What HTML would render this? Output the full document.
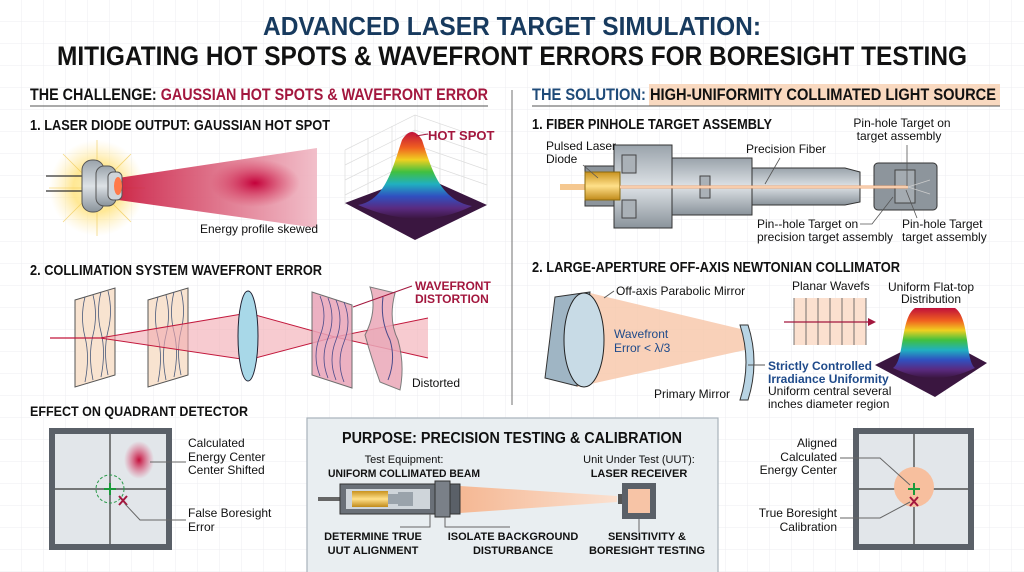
<!DOCTYPE html>
<html><head><meta charset="utf-8"><style>
html,body{margin:0;padding:0;background:#fff}
svg{display:block}
text{font-family:"Liberation Sans Narrow","Liberation Sans",sans-serif}
.h{font-weight:bold}
</style></head><body>
<svg width="1024" height="572" viewBox="0 0 1024 572" xmlns="http://www.w3.org/2000/svg">
<defs>
<pattern id="grid" width="22" height="22" patternUnits="userSpaceOnUse"><path d="M22 0V22H0" fill="none" stroke="#eceef1" stroke-width="1"/></pattern>
<radialGradient id="glow"><stop offset="0" stop-color="#fff7c0"/><stop offset="0.5" stop-color="#ffe27a" stop-opacity="0.8"/><stop offset="1" stop-color="#ffe9a8" stop-opacity="0"/></radialGradient>
<linearGradient id="beam" x1="0" x2="1"><stop offset="0" stop-color="#c8153c"/><stop offset="1" stop-color="#f0b8c4"/></linearGradient>
<radialGradient id="hot"><stop offset="0" stop-color="#c4003a"/><stop offset="1" stop-color="#d63a5c" stop-opacity="0"/></radialGradient>
<linearGradient id="rb" x1="0" y1="0" x2="0" y2="1"><stop offset="0" stop-color="#c0103a"/><stop offset="0.18" stop-color="#f06020"/><stop offset="0.32" stop-color="#f0d020"/><stop offset="0.46" stop-color="#40c040"/><stop offset="0.6" stop-color="#20b0c0"/><stop offset="0.74" stop-color="#3050c0"/><stop offset="0.88" stop-color="#5a2a80"/><stop offset="1" stop-color="#3a1640"/></linearGradient>
<linearGradient id="metal" x1="0" y1="0" x2="0" y2="1"><stop offset="0" stop-color="#9aa3ab"/><stop offset="0.5" stop-color="#dde2e6"/><stop offset="1" stop-color="#8a939b"/></linearGradient>
<linearGradient id="gold" x1="0" y1="0" x2="0" y2="1"><stop offset="0" stop-color="#c9921e"/><stop offset="0.5" stop-color="#ffe08a"/><stop offset="1" stop-color="#c08a1a"/></linearGradient>
<radialGradient id="redspot"><stop offset="0" stop-color="#c4103c"/><stop offset="1" stop-color="#e0406a" stop-opacity="0"/></radialGradient>
<linearGradient id="peachb" x1="0" x2="1"><stop offset="0" stop-color="#f5b894"/><stop offset="1" stop-color="#fbe0cf"/></linearGradient>
</defs>
<rect width="1024" height="572" fill="#fff"/>
<rect width="1024" height="572" fill="url(#grid)"/>

<!-- Titles -->
<text x="512" y="35" text-anchor="middle" class="h" font-size="26" fill="#173a5e" textLength="498" lengthAdjust="spacingAndGlyphs">ADVANCED LASER TARGET SIMULATION:</text>
<text x="512" y="65" text-anchor="middle" class="h" font-size="27" fill="#111" textLength="910" lengthAdjust="spacingAndGlyphs">MITIGATING HOT SPOTS &amp; WAVEFRONT ERRORS FOR BORESIGHT TESTING</text>

<!-- Left header -->
<text x="30" y="100" class="h" font-size="17" textLength="458" lengthAdjust="spacingAndGlyphs"><tspan fill="#111">THE CHALLENGE: </tspan><tspan fill="#a3173e">GAUSSIAN HOT SPOTS &amp; WAVEFRONT ERROR</tspan></text>
<line x1="30" y1="106" x2="488" y2="106" stroke="#555" stroke-width="1"/>
<line x1="512" y1="90" x2="512" y2="405" stroke="#888" stroke-width="1.2"/>

<!-- Right header -->
<rect x="649" y="84" width="351" height="22" fill="#f9d9c0"/>
<text x="532" y="100" class="h" font-size="17" textLength="464" lengthAdjust="spacingAndGlyphs"><tspan fill="#1e4a78">THE SOLUTION: </tspan><tspan fill="#111">HIGH-UNIFORMITY COLLIMATED LIGHT SOURCE</tspan></text>
<line x1="532" y1="106" x2="1000" y2="106" stroke="#555" stroke-width="1"/>

<!-- 1. Laser diode -->
<text x="30" y="130" class="h" font-size="15" fill="#111" textLength="300" lengthAdjust="spacingAndGlyphs">1. LASER DIODE OUTPUT: GAUSSIAN HOT SPOT</text>
<circle cx="97" cy="188" r="48" fill="url(#glow)"/>
<g stroke="#f0c850" stroke-width="0.8" opacity="0.7">
<line x1="97" y1="140" x2="97" y2="236"/><line x1="49" y1="188" x2="145" y2="188"/><line x1="63" y1="154" x2="131" y2="222"/><line x1="63" y1="222" x2="131" y2="154"/>
</g>
<line x1="46" y1="176" x2="84" y2="176" stroke="#333" stroke-width="1.2"/>
<line x1="46" y1="191" x2="84" y2="191" stroke="#333" stroke-width="1.2"/>
<polygon points="118,178 317,148 317,228 118,200" fill="url(#beam)" opacity="0.9"/>
<ellipse cx="255" cy="183" rx="45" ry="24" fill="url(#hot)"/>
<rect x="82" y="160" width="22" height="52" rx="10" fill="url(#metal)" stroke="#555"/>
<rect x="96" y="166" width="20" height="40" rx="8" fill="url(#metal)" stroke="#555"/>
<rect x="108" y="172" width="14" height="28" rx="5" fill="#cfd5da" stroke="#555"/>
<ellipse cx="118" cy="186" rx="4" ry="9" fill="#ff7a4a"/>
<text x="200" y="233" font-size="12" fill="#111">Energy profile skewed</text>

<!-- Gaussian 3D -->
<g stroke="#ddd" stroke-width="0.7" fill="none">
<path d="M345 150 L415 115 L487 140 M345 150 V205 M415 115 V175 M487 140 V205"/>
<path d="M345 165 L415 130 L487 155 M345 180 L415 145 L487 170 M345 195 L415 160 L487 185"/>
<path d="M368 138 V193 M392 126 V181 M440 124 V184 M464 132 V192"/>
</g>
<polygon points="345,203 420,175 487,205 415,240" fill="#3a1640"/>
<path d="M358 205 C385 200 392 170 402 140 Q412 124 422 140 C432 170 440 200 472 206 Q420 232 358 205 Z" fill="url(#rb)"/>
<line x1="416" y1="136" x2="428" y2="134" stroke="#a3173e"/>
<text x="428" y="140" class="h" font-size="13" fill="#a3173e">HOT SPOT</text>

<!-- 2. Collimation -->
<text x="30" y="275" class="h" font-size="15" fill="#111" textLength="292" lengthAdjust="spacingAndGlyphs">2. COLLIMATION SYSTEM WAVEFRONT ERROR</text>
<polygon points="75,300 115,288 115,375 75,387" fill="#f8e3d0" stroke="#555"/>
<polygon points="148,300 188,288 188,375 148,387" fill="#f8e3d0" stroke="#555"/>
<g stroke="#4a5a7a" stroke-width="0.8" fill="none">
<path d="M85 297 q-5 20 0 40 q5 20 0 45"/><path d="M93 295 q5 20 0 40 q-5 20 0 45"/><path d="M101 292 q-5 20 0 40 q5 20 0 45"/><path d="M108 291 q5 20 0 40 q-5 20 0 44"/>
<path d="M158 297 q-5 20 0 40 q5 20 0 45"/><path d="M166 295 q5 20 0 40 q-5 20 0 45"/><path d="M174 292 q-5 20 0 40 q5 20 0 45"/><path d="M181 291 q5 20 0 40 q-5 20 0 44"/>
</g>
<line x1="50" y1="338" x2="100" y2="338" stroke="#c2183c" stroke-width="1.2"/>
<polygon points="100,338 248,313 248,360" fill="#f2a8b0" opacity="0.6"/>
<polygon points="248,313 248,360 335,337" fill="#f2a8b0" opacity="0.6"/>
<polygon points="335,337 428,318 428,358" fill="#f2a8b0" opacity="0.6"/>
<path d="M100 338 L248 313 L335 337 L428 318 M100 338 L248 360 L335 337 L428 358" fill="none" stroke="#c2183c" stroke-width="1"/>
<ellipse cx="248" cy="336" rx="10" ry="45" fill="#a8d8e8" stroke="#223" stroke-width="1"/>
<polygon points="312,292 352,305 352,388 312,375" fill="#e9a4b8" opacity="0.85" stroke="#555"/>
<g stroke="#4a4a8a" stroke-width="0.8" fill="none">
<path d="M320 296 q8 20 0 40 q-8 20 0 40"/><path d="M328 298 q8 20 0 40 q-8 20 0 40"/><path d="M336 300 q8 20 0 40 q-8 20 0 40"/><path d="M344 302 q8 20 0 40 q-8 20 0 40"/>
</g>
<path d="M370 287 L395 293 Q388 320 398 340 Q405 365 400 390 L380 382 Q372 360 365 335 Q378 310 370 287 Z" fill="#eaa8b8" opacity="0.85" stroke="#666"/>
<path d="M383 297 Q380 320 390 340 Q396 360 388 380" fill="none" stroke="#4a4a8a"/>
<line x1="353" y1="307" x2="412" y2="286" stroke="#a3173e"/>
<text x="415" y="290" class="h" font-size="12" fill="#a3173e">WAVEFRONT</text>
<text x="415" y="303" class="h" font-size="12" fill="#a3173e">DISTORTION</text>
<text x="412" y="387" font-size="12" fill="#111">Distorted</text>

<!-- Quadrant detector left -->
<text x="30" y="416" class="h" font-size="14" fill="#111" textLength="218" lengthAdjust="spacingAndGlyphs">EFFECT ON QUADRANT DETECTOR</text>
<rect x="49" y="428" width="123" height="122" fill="#5a6068"/>
<rect x="55" y="434" width="111" height="110" fill="#e2e6ea"/>
<line x1="55" y1="489" x2="166" y2="489" stroke="#333" stroke-width="1.2"/>
<line x1="110" y1="434" x2="110" y2="544" stroke="#333" stroke-width="1.2"/>
<ellipse cx="139" cy="460" rx="15" ry="19" fill="url(#redspot)"/>
<circle cx="110" cy="489" r="14" fill="none" stroke="#2a9a4a" stroke-dasharray="3,2"/>
<path d="M104 489 h12 M110 483 v12" stroke="#1a9a3a" stroke-width="2"/>
<path d="M119 496 l8 9 M127 496 l-8 9" stroke="#a3173e" stroke-width="2"/>
<line x1="150" y1="462" x2="186" y2="462" stroke="#666"/>
<path d="M125 504 L140 520 L186 520" fill="none" stroke="#666"/>
<g font-size="12" fill="#111">
<text x="188" y="447">Calculated</text><text x="188" y="461">Energy Center</text><text x="188" y="474">Center Shifted</text>
<text x="188" y="517">False Boresight</text><text x="188" y="531">Error</text>
</g>

<!-- Purpose box -->
<rect x="307" y="418" width="411" height="160" fill="#e9eef1" stroke="#a8b2ba" stroke-width="1.2"/>
<text x="512" y="443" text-anchor="middle" class="h" font-size="16" fill="#111" textLength="340" lengthAdjust="spacingAndGlyphs">PURPOSE: PRECISION TESTING &amp; CALIBRATION</text>
<g font-size="11" fill="#111" text-anchor="middle">
<text x="404" y="463">Test Equipment:</text><text x="404" y="477" class="h" textLength="152" lengthAdjust="spacingAndGlyphs">UNIFORM COLLIMATED BEAM</text>
<text x="639" y="463">Unit Under Test (UUT):</text><text x="639" y="477" class="h">LASER RECEIVER</text>
</g>
<polygon points="460,486 617,496 617,502 460,513" fill="url(#peachb)"/>
<rect x="318" y="497" width="22" height="4" fill="#666"/>
<rect x="340" y="484" width="95" height="30" fill="#6a7078" stroke="#333"/>
<rect x="346" y="489" width="84" height="20" fill="#cfd5da"/>
<rect x="352" y="491" width="36" height="16" fill="url(#gold)"/>
<path d="M388 494 h10 v-2 h15 v14 h-15 v-2 h-10 z" fill="#9aa3ab"/>
<rect x="435" y="481" width="15" height="36" fill="#7a8088" stroke="#333"/>
<rect x="450" y="484" width="10" height="30" fill="#5a6068" stroke="#333"/>
<rect x="618" y="494" width="4" height="10" fill="#555"/>
<rect x="622" y="483" width="34" height="36" fill="#5a6068"/>
<rect x="628" y="489" width="22" height="24" fill="#f7c4a6"/>
<path d="M430 514 V527 H400 M445 517 V527 H510 M639 519 V532" fill="none" stroke="#666"/>
<g font-size="11" fill="#111" text-anchor="middle" class="h">
<text x="373" y="540">DETERMINE TRUE</text><text x="373" y="554">UUT ALIGNMENT</text>
<text x="513" y="540">ISOLATE BACKGROUND</text><text x="513" y="554">DISTURBANCE</text>
<text x="647" y="540">SENSITIVITY &amp;</text><text x="647" y="554">BORESIGHT TESTING</text>
</g>

<!-- Right detector -->
<rect x="853" y="428" width="121" height="122" fill="#5a6068"/>
<rect x="859" y="434" width="109" height="110" fill="#e2e6ea"/>
<line x1="859" y1="489" x2="968" y2="489" stroke="#333" stroke-width="1.2"/>
<line x1="914" y1="434" x2="914" y2="544" stroke="#333" stroke-width="1.2"/>
<circle cx="914" cy="487" r="20" fill="#f7bf9e"/>
<path d="M908 489 h12 M914 483 v12" stroke="#1a9a3a" stroke-width="2"/>
<path d="M910 497 l8 9 M918 497 l-8 9" stroke="#a3173e" stroke-width="2"/>
<path d="M840 458 L880 458 L910 485" fill="none" stroke="#666"/>
<path d="M840 518 L880 518 L910 502" fill="none" stroke="#666"/>
<g font-size="12" fill="#111" text-anchor="end">
<text x="837" y="447">Aligned</text><text x="837" y="461">Calculated</text><text x="837" y="474">Energy Center</text>
<text x="837" y="517">True Boresight</text><text x="837" y="531">Calibration</text>
</g>

<!-- 1. Fiber pinhole assembly -->
<text x="532" y="129" class="h" font-size="15" fill="#111" textLength="240" lengthAdjust="spacingAndGlyphs">1. FIBER PINHOLE TARGET ASSEMBLY</text>
<line x1="560" y1="187" x2="585" y2="187" stroke="#f5c890" stroke-width="6"/>
<rect x="585" y="166" width="45" height="40" fill="#8d959c" stroke="#333"/>
<rect x="614" y="145" width="58" height="83" fill="url(#metal)" stroke="#333"/>
<rect x="622" y="155" width="14" height="18" fill="#aab1b7" stroke="#444"/>
<rect x="622" y="200" width="14" height="18" fill="#aab1b7" stroke="#444"/>
<rect x="672" y="158" width="80" height="57" fill="url(#metal)" stroke="#333"/>
<path d="M752 168 H845 L860 172 V202 L845 205 H752 Z" fill="url(#metal)" stroke="#333"/>
<rect x="700" y="176" width="10" height="22" fill="#aab1b7" stroke="#444"/>
<rect x="874" y="163" width="63" height="47" rx="4" fill="#8d959c" stroke="#333"/>
<rect x="895" y="170" width="20" height="33" fill="#a4abb1" stroke="#444"/>
<rect x="585" y="172" width="35" height="28" fill="url(#gold)" stroke="#8a6a10"/>
<line x1="620" y1="187" x2="908" y2="187" stroke="#f0a878" stroke-width="3"/>
<line x1="620" y1="187" x2="908" y2="187" stroke="#fff2e0" stroke-width="1"/>
<path d="M908 187 L930 180 M908 187 L930 194" stroke="#ccc" stroke-width="0.8"/>
<g stroke="#555" stroke-width="0.8" fill="none">
<line x1="583" y1="165" x2="598" y2="178"/>
<line x1="780" y1="158" x2="765" y2="184"/>
<line x1="907" y1="145" x2="907" y2="186"/>
<path d="M860 224 H872 L893 197"/>
<line x1="906" y1="190" x2="917" y2="218"/>
</g>
<g font-size="12" fill="#111">
<text x="546" y="150">Pulsed Laser</text><text x="546" y="163">Diode</text>
<text x="746" y="153">Precision Fiber</text>
<text x="902" y="127" text-anchor="middle">Pin-hole Target on</text><text x="899" y="140" text-anchor="middle">target assembly</text>
<text x="757" y="228">Pin--hole Target on</text><text x="757" y="241">precision target assembly</text>
<text x="902" y="228">Pin-hole Target</text><text x="902" y="241">target assembly</text>
</g>

<!-- 2. Newtonian collimator -->
<text x="532" y="272" class="h" font-size="15" fill="#111" textLength="368" lengthAdjust="spacingAndGlyphs">2. LARGE-APERTURE OFF-AXIS NEWTONIAN COLLIMATOR</text>
<polygon points="590,293 745,330 745,350 577,387" fill="#f7c6a8" opacity="0.8"/>
<polygon points="555,297 590,292 577,386 545,378" fill="#9fb5c4" stroke="#333"/>
<ellipse cx="584" cy="340" rx="20" ry="47" fill="#c8dbe6" stroke="#222"/>
<path d="M740 325 Q752 362 740 400 L748 400 Q760 362 748 325 Z" fill="#b8d4e4" stroke="#333"/>
<line x1="604" y1="298" x2="614" y2="291" stroke="#555"/>
<g font-size="12" fill="#111">
<text x="616" y="295">Off-axis Parabolic Mirror</text>
<text x="654" y="398">Primary Mirror</text>
<text x="768" y="395">Uniform central several</text><text x="768" y="408">inches diameter region</text>
<text x="792" y="290">Planar Wavefs</text>
<text x="931" y="291" text-anchor="middle">Uniform Flat-top</text><text x="931" y="303" text-anchor="middle">Distribution</text>
</g>
<g font-size="12" fill="#1e4a8a">
<text x="614" y="338">Wavefront</text><text x="614" y="352">Error &lt; λ/3</text>
<text x="768" y="370" class="h">Strictly Controlled</text><text x="768" y="383" class="h">Irradiance Uniformity</text>
</g>
<line x1="748" y1="365" x2="765" y2="365" stroke="#555"/>
<rect x="794" y="298" width="72" height="47" fill="#fbe0cf"/>
<g stroke="#555" stroke-width="0.8">
<line x1="794" y1="298" x2="794" y2="345"/><line x1="806" y1="298" x2="806" y2="345"/><line x1="818" y1="298" x2="818" y2="345"/><line x1="830" y1="298" x2="830" y2="345"/><line x1="842" y1="298" x2="842" y2="345"/><line x1="854" y1="298" x2="854" y2="345"/><line x1="866" y1="298" x2="866" y2="345"/>
</g>
<line x1="784" y1="322" x2="870" y2="322" stroke="#a3173e" stroke-width="1.2"/>
<polygon points="876,322 868,318 868,326" fill="#a3173e"/>
<polygon points="875,365 935,335 987,363 935,397" fill="#3a1640"/>
<path d="M893 368 C905 360 900 318 915 308 L955 308 C970 318 965 360 975 368 Q935 388 893 368 Z" fill="url(#rb)"/>
</svg>
</body></html>
